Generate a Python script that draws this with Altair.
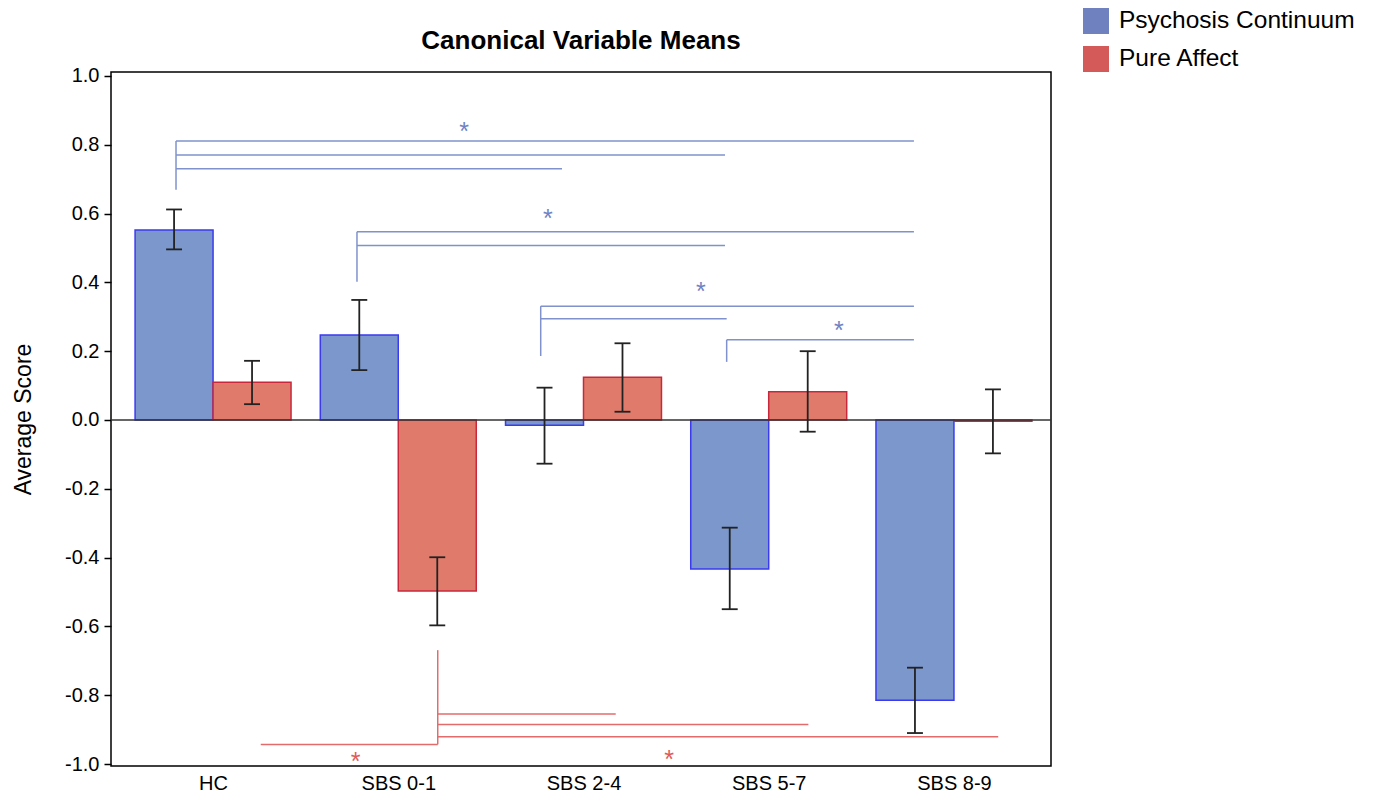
import altair as alt
import pandas as pd

# ---------------- data ----------------
groups = ["HC", "SBS 0-1", "SBS 2-4", "SBS 5-7", "SBS 8-9"]
series_names = ["Psychosis Continuum", "Pure Affect"]

psych_mean = [0.552, 0.247, -0.015, -0.433, -0.815]
psych_lo = [0.496, 0.145, -0.127, -0.550, -0.910]
psych_hi = [0.612, 0.349, 0.094, -0.313, -0.720]

affect_mean = [0.110, -0.497, 0.124, 0.082, -0.004]
affect_lo = [0.046, -0.597, 0.024, -0.034, -0.097]
affect_hi = [0.172, -0.399, 0.223, 0.200, 0.089]

y_ticks = [-1.0, -0.8, -0.6, -0.4, -0.2, 0.0, 0.2, 0.4, 0.6, 0.8, 1.0]

# significance brackets (data units)
blue_stem_x = [-0.20, 0.777, 1.769, 2.773]
blue_stem_top = [0.811, 0.547, 0.331, 0.233]
blue_stem_bottom = [0.669, 0.402, 0.186, 0.169]
blue_arm_start = [-0.20, -0.20, -0.20, 0.777, 0.777, 1.769, 1.769, 2.773]
blue_arm_end = [3.784, 2.764, 1.884, 3.784, 2.764, 3.784, 2.773, 3.784]
blue_arm_y = [0.811, 0.770, 0.730, 0.547, 0.507, 0.331, 0.294, 0.233]
blue_star_x = [1.355, 1.808, 2.634, 3.379]
blue_star_y = [0.852, 0.599, 0.387, 0.273]

red_stem_x = [1.213]
red_stem_top = [-0.669]
red_stem_bottom = [-0.943]
red_arm_start = [0.2575, 1.213, 1.213, 1.213]
red_arm_end = [1.213, 2.174, 3.214, 4.239]
red_arm_y = [-0.943, -0.855, -0.885, -0.921]
red_star_x = [0.770, 2.462]
red_star_y = [-0.979, -0.974]

# ---------------- tables ----------------
rows = []
for i, g in enumerate(groups):
    rows.append(dict(idx=i, group=g, series=series_names[0],
                     mean=psych_mean[i], lo=psych_lo[i], hi=psych_hi[i]))
    rows.append(dict(idx=i, group=g, series=series_names[1],
                     mean=affect_mean[i], lo=affect_lo[i], hi=affect_hi[i]))
df = pd.DataFrame(rows)

blue_stems = pd.DataFrame(dict(x=blue_stem_x, y1=blue_stem_bottom, y2=blue_stem_top))
blue_arms = pd.DataFrame(dict(x1=blue_arm_start, x2=blue_arm_end, y=blue_arm_y))
blue_stars = pd.DataFrame(dict(x=blue_star_x, y=blue_star_y))
red_stems = pd.DataFrame(dict(x=red_stem_x, y1=red_stem_bottom, y2=red_stem_top))
red_arms = pd.DataFrame(dict(x1=red_arm_start, x2=red_arm_end, y=red_arm_y))
red_stars = pd.DataFrame(dict(x=red_star_x, y=red_star_y))
legend_df = pd.DataFrame(dict(key=series_names, lx=[0.0, 0.0], ly=[0.0, 0.0]))

FONT = "Liberation Sans"
BAR_W = 0.421
CAP = 0.043

xs = alt.Scale(domain=[-0.551, 4.524], nice=False, zero=False)
ys = alt.Scale(domain=[-1.0058, 1.0116], nice=False, zero=False)

label_list = "[" + ",".join("'" + g + "'" for g in groups) + "]"
x_axis = alt.Axis(values=list(range(len(groups))), labelExpr=label_list + "[datum.value]",
                  ticks=False, domain=False, grid=False, labelFontSize=20, labelFont=FONT,
                  labelColor="black", labelPadding=7, title=None)
y_axis = alt.Axis(values=y_ticks, labelExpr="replace(format(datum.value, '.1f'), '\u2212', '-')",
                  domain=False, grid=False, tickSize=7, tickColor="black", tickWidth=1.5,
                  labelFontSize=20, labelFont=FONT, labelColor="black", labelPadding=5,
                  title="Average Score", titleFont=FONT, titleFontSize=23,
                  titleFontWeight="normal", titleColor="black", titlePadding=29)

base = alt.Chart(df).transform_calculate(
    x0="datum.idx + (datum.series == 'Psychosis Continuum' ? -%f : 0)" % BAR_W,
    zero="0",
).transform_calculate(
    x1="datum.x0 + %f" % BAR_W,
    xc="datum.x0 + %f" % (BAR_W / 2),
).transform_calculate(
    c0="datum.xc - %f" % CAP,
    c1="datum.xc + %f" % CAP,
)

bars = base.mark_bar(strokeWidth=1.5).encode(
    x=alt.X("x0:Q", scale=xs, axis=x_axis),
    x2="x1:Q",
    y=alt.Y("mean:Q", scale=ys, axis=y_axis),
    y2="zero:Q",
    fill=alt.Fill("series:N", scale=alt.Scale(domain=series_names, range=["#7b97cc", "#e07b6c"]), legend=None),
    stroke=alt.Stroke("series:N", scale=alt.Scale(domain=series_names, range=["#3a3af0", "#c8283c"]), legend=None),
)

zero_line = alt.Chart(pd.DataFrame({"v": [0.0]})).mark_rule(color="#333333", strokeWidth=1.5).encode(
    y=alt.Y("v:Q", scale=ys)
)

err_color = "#222222"
err_rule = base.mark_rule(color=err_color, strokeWidth=1.8).encode(
    x=alt.X("xc:Q", scale=xs), y=alt.Y("lo:Q", scale=ys), y2="hi:Q")
err_lo = base.mark_rule(color=err_color, strokeWidth=1.8).encode(
    x=alt.X("c0:Q", scale=xs), x2="c1:Q", y=alt.Y("lo:Q", scale=ys))
err_hi = base.mark_rule(color=err_color, strokeWidth=1.8).encode(
    x=alt.X("c0:Q", scale=xs), x2="c1:Q", y=alt.Y("hi:Q", scale=ys))

BLUE_B = "#7f92cc"
RED_B = "#e36b6b"

def brackets(stems, arms, stars, color, star_color):
    s = alt.Chart(stems).mark_rule(color=color, strokeWidth=1.5).encode(
        x=alt.X("x:Q", scale=xs), y=alt.Y("y1:Q", scale=ys), y2="y2:Q")
    a = alt.Chart(arms).mark_rule(color=color, strokeWidth=1.5).encode(
        x=alt.X("x1:Q", scale=xs), x2="x2:Q", y=alt.Y("y:Q", scale=ys))
    t = alt.Chart(stars).mark_text(text="*", color=star_color, fontSize=25, font=FONT,
                                   baseline="middle", align="center", dy=5).encode(
        x=alt.X("x:Q", scale=xs), y=alt.Y("y:Q", scale=ys))
    return s + a + t

blue_br = brackets(blue_stems, blue_arms, blue_stars, BLUE_B, "#6f83c4")
red_br = brackets(red_stems, red_arms, red_stars, RED_B, "#e05a5a")

legend_layer = alt.Chart(legend_df).mark_point(
    shape="square", filled=True, size=676, opacity=0).encode(
    x=alt.X("lx:Q", scale=xs),
    y=alt.Y("ly:Q", scale=ys),
    shape=alt.Shape("key:N",
                    scale=alt.Scale(domain=series_names, range=["square", "square"]),
                    legend=None),
    color=alt.Color("key:N",
                    scale=alt.Scale(domain=series_names, range=["#6f82bf", "#d45a5a"]),
                    legend=alt.Legend(orient="none", legendX=972, legendY=-64, title=None,
                                      symbolType="square", symbolSize=676, symbolOpacity=1,
                                      symbolStrokeWidth=0, labelFontSize=24.5, labelFont=FONT,
                                      labelColor="black", labelLimit=500, rowPadding=12,
                                      labelOffset=10, padding=0)),
)

chart = alt.layer(
    bars, zero_line, err_rule, err_lo, err_hi, blue_br, red_br, legend_layer
).resolve_scale(color="independent").properties(
    width=940, height=694,
    title=alt.TitleParams("Canonical Variable Means", font=FONT, fontSize=26,
                          fontWeight="bold", anchor="middle", frame="group", offset=-46,
                          color="black"),
    padding={"left": 103, "top": 64, "right": 315, "bottom": 28},
    autosize=alt.AutoSizeParams(type="none"),
).configure_view(stroke="black", strokeWidth=1.5)

chart.save("out.html", embed_options={"renderer": "svg", "actions": False})
